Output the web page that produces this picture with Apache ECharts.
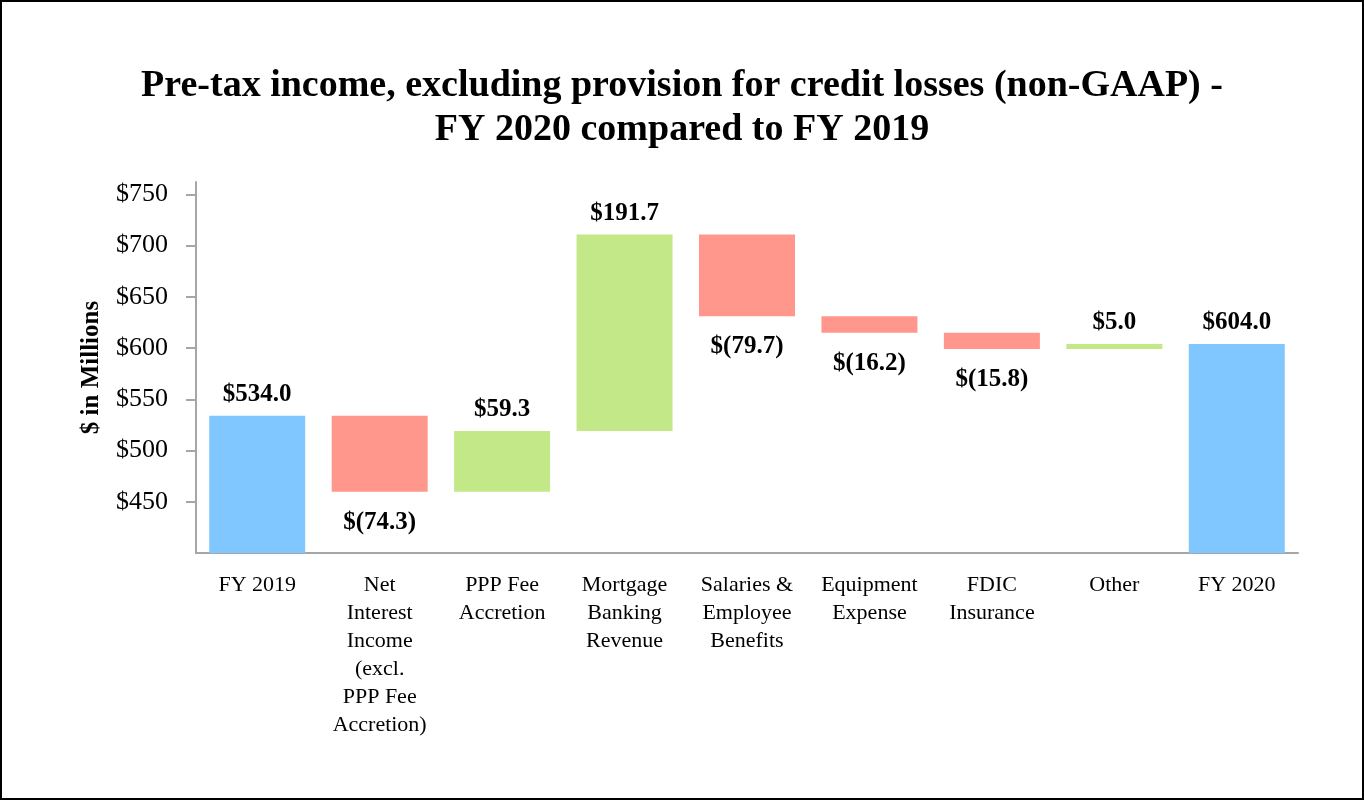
<html>
  <head>
    <meta charset="utf-8">
    <title>Pre-tax income waterfall</title>
    <script src="https://cdn.jsdelivr.net/npm/echarts@6.0.0/dist/echarts.min.js"></script>
    <style>
      html, body { margin: 0; padding: 0; background: #fff; }
      #frame {
        position: absolute; left: 0; top: 0;
        width: 1360px; height: 796px;
        border: 2px solid #000;
      }
      #main { width: 1360px; height: 796px; }
    </style>
  </head>
  <body>
    <div id="frame"><div id="main"></div></div>
    <script type="text/javascript">
      // categories and the change each step brings (totals are full values)
      var categories = ['FY 2019', 'Net\nInterest\nIncome\n(excl.\nPPP Fee\nAccretion)', 'PPP Fee\nAccretion',
        'Mortgage\nBanking\nRevenue', 'Salaries &\nEmployee\nBenefits', 'Equipment\nExpense', 'FDIC\nInsurance', 'Other', 'FY 2020'];
      var values = [534.0, -74.3, 59.3, 191.7, -79.7, -16.2, -15.8, 5.0, 604.0];
      var kinds = ['total', 'step', 'step', 'step', 'step', 'step', 'step', 'step', 'total'];
      var yTicks = [450, 500, 550, 600, 650, 700, 750];

      var colors = { total: '#80C6FF', up: '#C2E887', down: '#FF978D' };

      var baseData = [];
      var barData = [];
      var running = 0;
      for (var i = 0; i < values.length; i++) {
        var v = values[i];
        var item;
        if (kinds[i] === 'total') {
          running = v;
          baseData.push(0);
          item = { value: v, raw: v, itemStyle: { color: colors.total },
                   label: { position: 'top', distance: 9 } };
        } else if (v >= 0) {
          baseData.push(running);
          running += v;
          item = { value: v, raw: v, itemStyle: { color: colors.up },
                   label: { position: 'top', distance: 9 } };
        } else {
          running += v;
          baseData.push(running);
          item = { value: -v, raw: v, itemStyle: { color: colors.down },
                   label: { position: 'bottom', distance: 18 } };
        }
        barData.push(item);
      }

      function money(v) {
        return v < 0 ? '$(' + (-v).toFixed(1) + ')' : '$' + v.toFixed(1);
      }

      var font = 'Liberation Serif, Times New Roman, serif';
      var myChart = echarts.init(document.getElementById('main'));
      var option = {
        animation: false,
        textStyle: { fontFamily: font },
        title: {
          text: 'Pre-tax income, excluding provision for credit losses (non-GAAP) -\nFY 2020 compared to FY 2019',
          left: 'center',
          top: 57,
          textStyle: { fontFamily: font, fontSize: 38, fontWeight: 'bold', color: '#000', lineHeight: 44 }
        },
        grid: { left: 194, right: 64, top: 180, bottom: 245 },
        xAxis: {
          type: 'category',
          data: categories,
          axisLine: { lineStyle: { color: '#A6A6A6', width: 2 } },
          axisTick: { alignWithLabel: true, length: 8, lineStyle: { color: '#A6A6A6', width: 2 } },
          axisLabel: { interval: 0, margin: 18, fontFamily: font, fontSize: 22, lineHeight: 28, color: '#000' }
        },
        yAxis: {
          type: 'value',
          min: 400,
          max: 762,
          interval: 50,
          name: '$ in Millions',
          nameLocation: 'middle',
          nameGap: 92,
          nameTextStyle: { fontFamily: font, fontSize: 25, fontWeight: 'bold', color: '#000' },
          splitLine: { show: false },
          axisLine: { show: true, lineStyle: { color: '#A6A6A6', width: 2 } },
          axisTick: {
            show: true, length: 10,
            lineStyle: { color: '#A6A6A6', width: 2 },
            customValues: yTicks
          },
          axisLabel: {
            margin: 28,
            fontFamily: font, fontSize: 26, color: '#000',
            customValues: yTicks,
            formatter: function (v) { return '$' + v; }
          }
        },
        series: [
          {
            type: 'bar', stack: 'w', barWidth: 96,
            itemStyle: { color: 'transparent' },
            silent: true,
            data: baseData
          },
          {
            type: 'bar', stack: 'w', barWidth: 96,
            data: barData,
            label: {
              show: true,
              fontFamily: font, fontSize: 25, fontWeight: 'bold', color: '#000',
              formatter: function (p) { return money(p.data.raw); }
            }
          }
        ]
      };
      myChart.setOption(option);
    </script>
  </body>
</html>
